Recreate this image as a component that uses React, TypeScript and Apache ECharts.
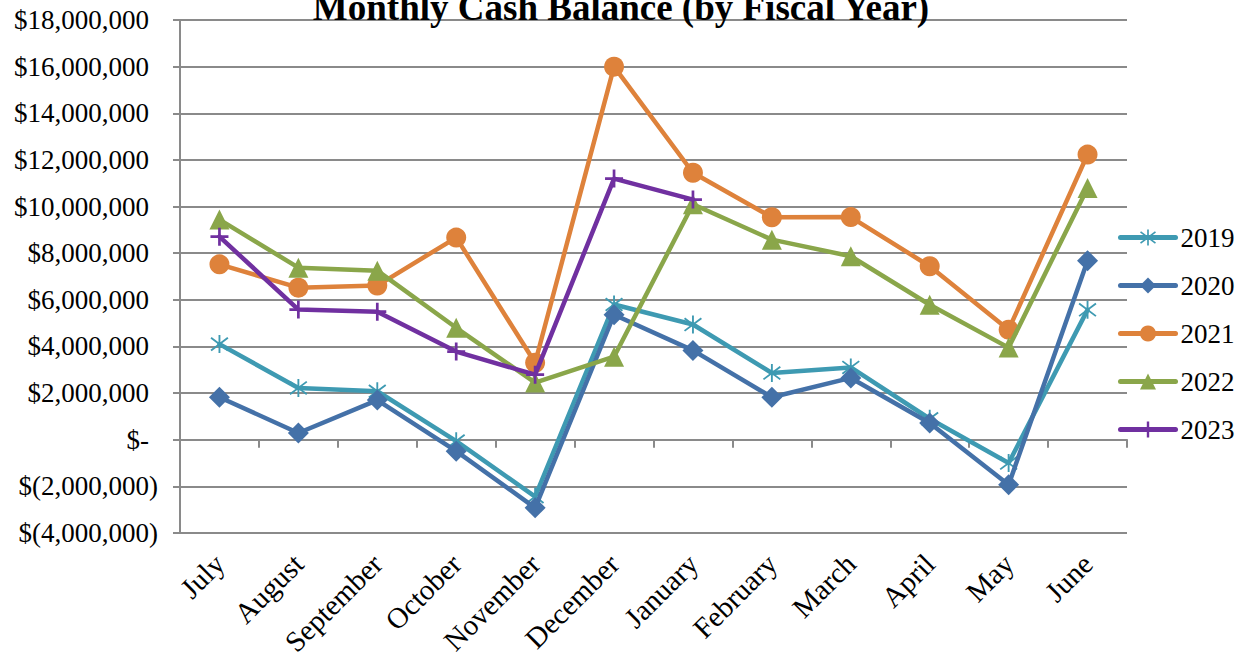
import React, { useEffect, useRef } from "react";
import * as echarts from "echarts";

const months = ["July", "August", "September", "October", "November", "December", "January", "February", "March", "April", "May", "June"];
const fy2019 = [4100000, 2220000, 2080000, -60000, -2440000, 5800000, 4940000, 2860000, 3100000, 900000, -1000000, 5570000];
const fy2020 = [1820000, 290000, 1700000, -490000, -2920000, 5360000, 3830000, 1820000, 2650000, 720000, -1930000, 7680000];
const fy2021 = [7520000, 6520000, 6610000, 8670000, 3300000, 16000000, 11450000, 9540000, 9550000, 7440000, 4720000, 12230000];
const fy2022 = [9440000, 7380000, 7250000, 4800000, 2450000, 3560000, 10100000, 8580000, 7870000, 5790000, 3950000, 10800000];
const fy2023 = [8710000, 5580000, 5490000, 3780000, 2790000, 11200000, 10300000, null, null, null, null, null];
const years = ["2019", "2020", "2021", "2022", "2023"];
const colors = ["#3E9AB2", "#4471A8", "#DE823B", "#8AA64A", "#7030A0"];

const STAR =
  "path://M9 0 H11 V20 H9 Z M1.614 2.211 L19.614 16.211 L18.386 17.789 L0.386 3.789 Z M0.386 16.211 L18.386 2.211 L19.614 3.789 L1.614 17.789 Z";
const PLUS = "path://M8.5 0 H11.5 V20 H8.5 Z M0 8.5 H20 V11.5 H0 Z";

const FONT = "Liberation Serif";

function fmt(v: number): string {
  if (v === 0) return "{p|$-}";
  const s = Math.abs(v).toLocaleString("en-US");
  if (v < 0) return "{n|$(" + s + ")}";
  return "{p|$" + s + "}";
}

export default function App() {
  const ref = useRef<HTMLDivElement>(null);
  useEffect(() => {
    if (!ref.current) return;
    const chart = echarts.init(ref.current, undefined, { renderer: "svg" });
    const dataSets = [fy2019, fy2020, fy2021, fy2022, fy2023];
    const symbols = [STAR, "diamond", "circle", "triangle", PLUS];
    const sizes = [18, 21, 20, 20, 18];
    chart.setOption({
      animation: false,
      backgroundColor: "#ffffff",
      textStyle: { fontFamily: FONT },
      title: {
        text: "Monthly Cash Balance (by Fiscal Year)",
        left: "center",
        top: -16,
        textStyle: { fontFamily: FONT, fontWeight: "bold", fontSize: 37, color: "#000" },
      },
      legend: {
        orient: "vertical",
        left: 1118,
        top: 224,
        padding: 0,
        itemWidth: 55,
        itemHeight: 20,
        itemGap: 21,
        data: years,
        lineStyle: { width: 5, cap: "round" },
        textStyle: { fontFamily: FONT, fontSize: 27, color: "#000", lineHeight: 26 },
      },
      grid: { left: 180, right: 115, top: 20, bottom: 127, containLabel: false },
      xAxis: [
        {
          type: "category",
          data: months,
          boundaryGap: true,
          axisLine: { onZero: true, lineStyle: { color: "#8a8a8a", width: 2 } },
          axisTick: { show: true, length: 8, inside: false, lineStyle: { color: "#8a8a8a", width: 2 } },
          axisLabel: { show: false },
          splitLine: { show: false },
        },
        {
          type: "category",
          data: months,
          position: "bottom",
          boundaryGap: true,
          axisLine: { show: false, onZero: false },
          axisTick: { show: false },
          axisLabel: {
            rotate: 45,
            margin: 26,
            fontFamily: FONT,
            fontSize: 29,
            color: "#000",
            interval: 0,
          },
          splitLine: { show: false },
        },
      ],
      yAxis: {
        type: "value",
        min: -4000000,
        max: 18000000,
        interval: 2000000,
        axisLine: { show: true, lineStyle: { color: "#8a8a8a", width: 2 } },
        axisTick: { show: true, length: 7, lineStyle: { color: "#8a8a8a", width: 2 } },
        splitLine: { show: true, lineStyle: { color: "#8a8a8a", width: 2 } },
        axisLabel: {
          margin: 22,
          formatter: (v: number) => fmt(v),
          rich: {
            p: { fontFamily: FONT, fontSize: 27, color: "#000", padding: [0, 9, 0, 0] },
            n: { fontFamily: FONT, fontSize: 27, color: "#000" },
          },
        },
      },
      series: years.map((y, i) => ({
        name: y,
        type: "line",
        xAxisIndex: 0,
        data: dataSets[i],
        symbol: symbols[i],
        symbolSize: sizes[i],
        showAllSymbol: true,
        connectNulls: false,
        color: colors[i],
        lineStyle: { color: colors[i], width: 4.5, cap: "round" },
        itemStyle: { color: colors[i] },
        z: 2 + i,
      })),
    });
    return () => chart.dispose();
  }, []);
  return <div ref={ref} style={{ position: "absolute", left: 0, top: 0, width: 1242, height: 660 }} />;
}
